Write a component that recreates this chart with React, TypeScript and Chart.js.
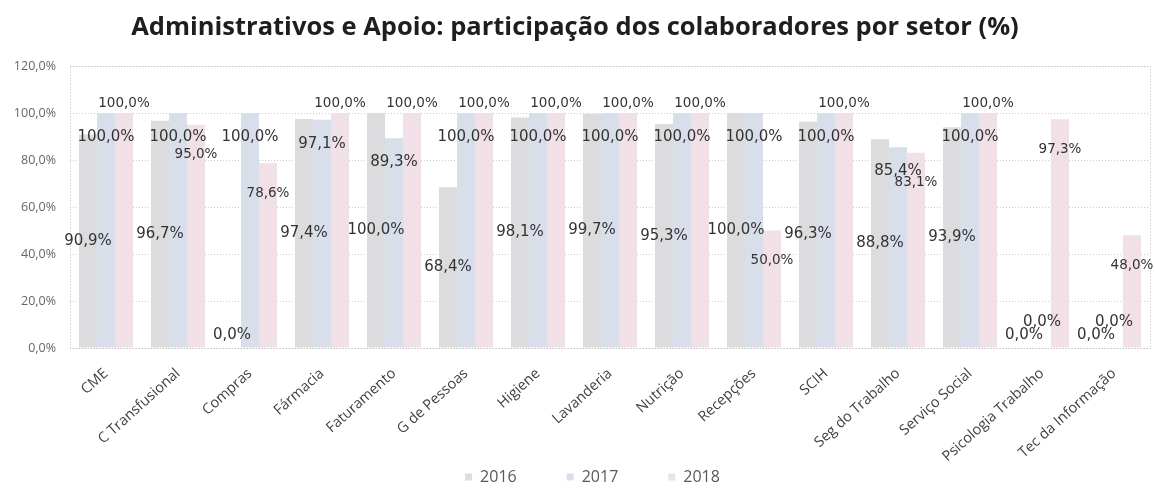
import React, { useEffect, useRef } from 'react';
import { Chart, registerables } from 'chart.js';

Chart.register(...registerables);

const TITLE = 'Administrativos e Apoio: participação dos colaboradores por setor (%)';

const categories = [
  'CME',
  'C Transfusional',
  'Compras',
  'Fármacia',
  'Faturamento',
  'G de Pessoas',
  'Higiene',
  'Lavanderia',
  'Nutrição',
  'Recepções',
  'SCIH',
  'Seg do Trabalho',
  'Serviço Social',
  'Psicologia Trabalho',
  'Tec da Informação',
];

const seriesNames = ['2016', '2017', '2018'];

const values2016 = [90.9, 96.7, 0, 97.4, 100, 68.4, 98.1, 99.7, 95.3, 100, 96.3, 88.8, 93.9, 0, 0];
const values2017 = [100, 100, 100, 97.1, 89.3, 100, 100, 100, 100, 100, 100, 85.4, 100, 0, 0];
const values2018 = [100, 95, 78.6, 100, 100, 100, 100, 100, 100, 50, 100, 83.1, 100, 97.3, 48];

const yTicks = [0, 20, 40, 60, 80, 100, 120];

const seriesColors = ['#dcdcdf', '#d9dfea', '#f1e0e7'];

const fmt = (v: number) => v.toFixed(1).replace('.', ',') + '%';

const framePlugin = {
  id: 'frame',
  beforeDatasetsDraw(chart: any) {
    const { ctx, chartArea } = chart;
    ctx.save();
    ctx.strokeStyle = '#bdbdbd';
    ctx.lineWidth = 1;
    ctx.setLineDash([1, 2]);
    ctx.strokeRect(
      Math.round(chartArea.left) + 0.5,
      Math.round(chartArea.top) + 0.5,
      Math.round(chartArea.right - chartArea.left),
      Math.round(chartArea.bottom - chartArea.top)
    );
    ctx.restore();
  },
};

const valueLabelPlugin = {
  id: 'valueLabels',
  afterDatasetsDraw(chart: any) {
    const ctx = chart.ctx;
    ctx.save();
    ctx.textAlign = 'center';
    ctx.textBaseline = 'middle';
    ctx.fillStyle = '#333333';
    chart.data.datasets.forEach((ds: any, i: number) => {
      const meta = chart.getDatasetMeta(i);
      meta.data.forEach((bar: any, j: number) => {
        const v = ds.data[j] as number;
        const { x, y, base } = bar.getProps(['x', 'y', 'base'], true);
        let ly: number;
        if (i === 0) {
          ly = v > 0 ? (y + base) / 2 : base - 13;
        } else if (i === 1) {
          ly = v > 0 ? y + 24 : base - 26;
        } else {
          ly = v >= 100 ? y - 10 : y + 30;
        }
        ctx.font = i === 2 ? '13.5px "DejaVu Sans"' : '15px "DejaVu Sans"';
        ctx.fillText(fmt(v), x, ly);
      });
    });
    ctx.restore();
  },
};

const legendPlugin = {
  id: 'bottomLegend',
  afterDraw(chart: any) {
    const ctx = chart.ctx;
    const box = 7;
    const gap = 8;
    const spacing = 50;
    ctx.save();
    ctx.font = '16px "Open Sans"';
    ctx.textBaseline = 'middle';
    ctx.textAlign = 'left';
    const widths = seriesNames.map((n) => box + gap + ctx.measureText(n).width);
    const total = widths.reduce((a, b) => a + b, 0) + spacing * (seriesNames.length - 1);
    let x = chart.width / 2 + 15 - total / 2;
    const cy = chart.height - 11;
    seriesNames.forEach((n, i) => {
      ctx.fillStyle = seriesColors[i];
      ctx.fillRect(x, cy - box / 2, box, box);
      ctx.fillStyle = '#595959';
      ctx.fillText(n, x + box + gap, cy);
      x += widths[i] + spacing;
    });
    ctx.restore();
  },
};

export default function App() {
  const canvasRef = useRef<HTMLCanvasElement | null>(null);

  useEffect(() => {
    document.body.style.margin = '0';
    const canvas = canvasRef.current;
    if (!canvas) return;
    const chart = new Chart(canvas, {
      type: 'bar',
      data: {
        labels: categories,
        datasets: [values2016, values2017, values2018].map((vals, i) => ({
          label: seriesNames[i],
          data: vals,
          backgroundColor: seriesColors[i],
          borderWidth: 0,
          categoryPercentage: 0.75,
          barPercentage: 1.0,
        })),
      },
      options: {
        responsive: false,
        animation: false,
        devicePixelRatio: 1,
        layout: { padding: { left: 0, right: 5, top: 0, bottom: 25 } },
        plugins: {
          title: {
            display: true,
            text: TITLE,
            color: '#1e1e1e',
            font: { family: 'Open Sans', weight: 'bold', size: 25.5, lineHeight: 1.2 },
            padding: { top: 12.2, bottom: 23.2 },
          },
          legend: { display: false },
          tooltip: { enabled: false },
        },
        scales: {
          x: {
            grid: { display: false, drawTicks: false },
            border: { display: false },
            ticks: {
              autoSkip: false,
              maxRotation: 42,
              minRotation: 42,
              padding: 17,
              color: '#404040',
              font: { family: 'Open Sans', size: 14.5 },
            },
            afterFit: (s: any) => {
              s.height = 115;
            },
          },
          y: {
            min: 0,
            max: 120,
            afterBuildTicks: (s: any) => {
              s.ticks = yTicks.map((v) => ({ value: v }));
            },
            ticks: {
              padding: 14,
              color: '#666666',
              font: { family: 'Open Sans', size: 12.5 },
              callback: (v: any) => fmt(Number(v)),
            },
            grid: { color: '#cccccc', drawTicks: false },
            border: { display: false, dash: [1, 2] },
            afterFit: (s: any) => {
              s.width = 70;
            },
          },
        },
      },
      plugins: [framePlugin, valueLabelPlugin, legendPlugin],
    });
    return () => chart.destroy();
  }, []);

  return (
    <div style={{ width: 1155, height: 488, background: '#ffffff' }}>
      <canvas ref={canvasRef} width={1155} height={488} />
    </div>
  );
}
